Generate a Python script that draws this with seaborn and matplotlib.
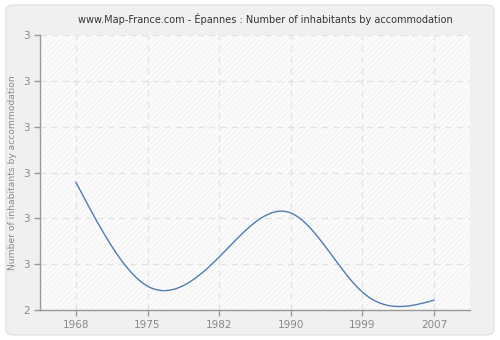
import numpy as np
import pandas as pd
import matplotlib
matplotlib.use("Agg")
import matplotlib.pyplot as plt
import seaborn as sns
from matplotlib.patches import FancyBboxPatch

years = ["1968", "1975", "1982", "1990", "1999", "2007"]
values = [2.465, 2.087, 2.193, 2.353, 2.065, 2.036]
ytick_vals = [2.0, 2.1667, 2.3333, 2.5, 2.6667, 2.8333, 3.0]
ytick_labels = ["2", "3", "3", "3", "3", "3", "3"]

def natural_spline(x, y, n=400):
    x = np.asarray(x, float); y = np.asarray(y, float)
    k = len(x); h = np.diff(x)
    A = np.zeros((k, k)); b = np.zeros(k)
    A[0, 0] = A[-1, -1] = 1
    for i in range(1, k - 1):
        A[i, i - 1] = h[i - 1]; A[i, i] = 2 * (h[i - 1] + h[i]); A[i, i + 1] = h[i]
        b[i] = 3 * ((y[i + 1] - y[i]) / h[i] - (y[i] - y[i - 1]) / h[i - 1])
    c = np.linalg.solve(A, b)
    xs = np.linspace(x[0], x[-1], n); ys = np.empty_like(xs)
    for j, xv in enumerate(xs):
        i = min(np.searchsorted(x, xv, side="right") - 1, k - 2)
        d = xv - x[i]
        bi = (y[i + 1] - y[i]) / h[i] - h[i] * (2 * c[i] + c[i + 1]) / 3
        di = (c[i + 1] - c[i]) / (3 * h[i])
        ys[j] = y[i] + bi * d + c[i] * d ** 2 + di * d ** 3
    return xs, ys

sns.set_theme(style="white")
plt.rcParams["font.family"] = ["DejaVu Sans"]
plt.rcParams["hatch.linewidth"] = 0.5

fig = plt.figure(figsize=(5, 3.4), dpi=100, facecolor="white")
fig.patches.append(FancyBboxPatch((0.012, 0.015), 0.976, 0.97, boxstyle="round,pad=0,rounding_size=0.015",
                                  transform=fig.transFigure, facecolor="#f0f0f0", edgecolor="#e2e2e2",
                                  linewidth=1, zorder=-10))
ax = fig.add_axes([0.08, 0.088, 0.86, 0.809])
ax.patch.set_facecolor("#fbfbfb")
ax.patch.set_hatch("//////")
ax.patch.set_edgecolor("#efefef")
ax.patch.set_linewidth(0)

idx = np.arange(len(years))
xs, ys = natural_spline(idx, values)
df = pd.DataFrame({"x": xs, "y": ys})
sns.lineplot(data=df, x="x", y="y", ax=ax, color="#4f7cb3", linewidth=1.0)

ax.set_xlim(-0.5, 5.5)
ax.set_ylim(2.0, 3.0)
ax.set_xticks(idx)
ax.set_xticklabels(years)
ax.set_yticks(ytick_vals)
ax.set_yticklabels(ytick_labels)
ax.grid(True, color="#e2e2e2", linestyle=(0, (5, 4)), linewidth=0.9)
ax.set_axisbelow(True)
for s in ["top", "right"]:
    ax.spines[s].set_visible(False)
for s in ["left", "bottom"]:
    ax.spines[s].set_color("#999999")
    ax.spines[s].set_linewidth(1)
ax.tick_params(axis="both", colors="#999999", labelcolor="#888888", labelsize=7.5,
               length=4, width=1, direction="out", left=True, bottom=True)
ax.set_xlabel("")
ax.set_ylabel("Number of inhabitants by accommodation", color="#888888", fontsize=6.6)
ax.set_title("www.Map-France.com - Épannes : Number of inhabitants by accommodation",
             fontsize=7.0, color="#333333", pad=9, x=0.525)
fig.savefig("out.png", dpi=100, facecolor=fig.get_facecolor())
